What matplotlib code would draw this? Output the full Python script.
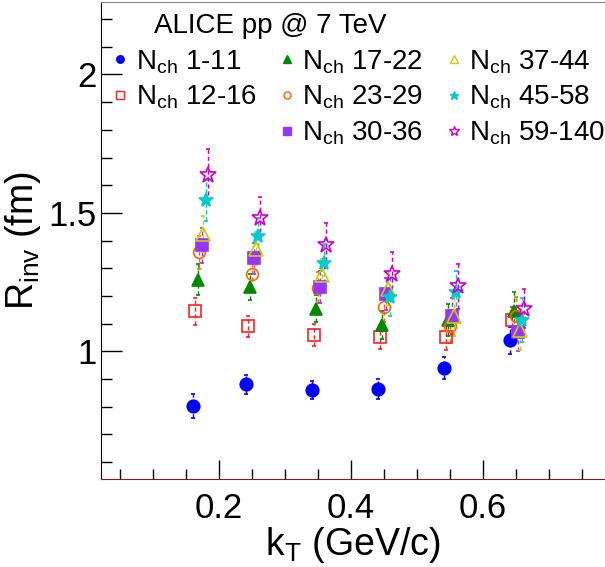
import numpy as np
import matplotlib
matplotlib.use('Agg')
import matplotlib.pyplot as plt
from matplotlib.lines import Line2D

plt.rcParams['font.family'] = ['Liberation Sans', 'DejaVu Sans']
plt.rcParams['mathtext.default'] = 'regular'

# Multiplicity classes
labels = ['1-11', '12-16', '17-22', '23-29', '30-36', '37-44', '45-58', '59-140']

# kT (GeV/c) per class, small shifts for visibility
kt_1_11 = [0.161, 0.241, 0.341, 0.441, 0.541, 0.641]
kt_12_16 = [0.164, 0.244, 0.344, 0.444, 0.544, 0.644]
kt_17_22 = [0.168, 0.247, 0.347, 0.447, 0.547, 0.647]
kt_23_29 = [0.170, 0.250, 0.350, 0.450, 0.550, 0.650]
kt_30_36 = [0.174, 0.253, 0.353, 0.453, 0.553, 0.653]
kt_37_44 = [0.176, 0.256, 0.356, 0.456, 0.556, 0.656]
kt_45_58 = [0.180, 0.259, 0.359, 0.459, 0.559, 0.659]
kt_59_140 = [0.183, 0.262, 0.362, 0.462, 0.562, 0.662]

# Rinv (fm)
r_1_11 = [0.803, 0.881, 0.859, 0.863, 0.940, 1.040]
r_12_16 = [1.144, 1.090, 1.059, 1.050, 1.053, 1.111]
r_17_22 = [1.259, 1.232, 1.154, 1.095, 1.112, 1.145]
r_23_29 = [1.358, 1.279, 1.230, 1.160, 1.090, 1.126]
r_30_36 = [1.382, 1.335, 1.232, 1.206, 1.126, 1.070]
r_37_44 = [1.422, 1.370, 1.274, 1.226, 1.126, 1.078]
r_45_58 = [1.545, 1.415, 1.318, 1.196, 1.214, 1.114]
r_59_140 = [1.635, 1.482, 1.382, 1.278, 1.234, 1.154]

# erros
e_1_11 = [0.043, 0.034, 0.033, 0.036, 0.040, 0.049]
e_12_16 = [0.048, 0.038, 0.041, 0.042, 0.047, 0.050]
e_17_22 = [0.057, 0.047, 0.050, 0.050, 0.058, 0.070]
e_23_29 = [0.060, 0.050, 0.055, 0.055, 0.060, 0.070]
e_30_36 = [0.062, 0.055, 0.058, 0.058, 0.065, 0.070]
e_37_44 = [0.065, 0.060, 0.060, 0.060, 0.070, 0.075]
e_45_58 = [0.075, 0.065, 0.070, 0.070, 0.075, 0.080]
e_59_140 = [0.095, 0.075, 0.080, 0.080, 0.080, 0.070]

kts = [kt_1_11, kt_12_16, kt_17_22, kt_23_29, kt_30_36, kt_37_44, kt_45_58, kt_59_140]
rs = [r_1_11, r_12_16, r_17_22, r_23_29, r_30_36, r_37_44, r_45_58, r_59_140]
errs = [e_1_11, e_12_16, e_17_22, e_23_29, e_30_36, e_37_44, e_45_58, e_59_140]

# estilo de cada serie: (marker, cor, cheio, tamanho)
estilos = [('o', '#0000ff', True, 9),
           ('s', '#ff2020', False, 9),
           ('^', '#008800', True, 9),
           ('o', '#ff6600', False, 8.5),
           ('s', '#9933ff', True, 8.5),
           ('^', '#cccc00', False, 10),
           ('*', '#00cccc', True, 10.5),
           ('*', '#cc00cc', False, 12)]

fig = plt.figure(figsize=(6.05, 5.67), dpi=100)
ax = fig.add_axes([100.5 / 605, 87.7 / 567, 504.5 / 605, 477.3 / 567])

handles = []
for kt, r, e, (m, c, cheio, ms) in zip(kts, rs, errs, estilos):
    fc = c if cheio else 'none'
    eb = ax.errorbar(kt, r, yerr=e, fmt=m, color=c, mfc=fc, mec=c, ms=ms, mew=1.2,
                     elinewidth=1.0, capsize=1.5, capthick=1.0)
    eb[2][0].set_linestyle((0, (3, 2)))
    handles.append(Line2D([], [], marker=m, color=c, mfc=fc, mec=c, ms=ms * 0.6, mew=1.0, ls='none'))

ax.set_xlim(0.0205, 0.785)
ax.set_ylim(0.537, 2.262)

ax.set_xticks([0.2, 0.4, 0.6])
ax.set_xticklabels(['0.2', '0.4', '0.6'])
ax.set_xticks(np.arange(0.05, 0.78, 0.05), minor=True)
ax.set_yticks([1, 1.5, 2])
ax.set_yticklabels(['1', '1.5', '2'])
ax.set_yticks(np.arange(0.6, 2.25, 0.1), minor=True)

ax.tick_params(which='both', direction='in', top=False, right=False)
ax.tick_params(axis='x', which='major', length=14, width=1, labelsize=25, pad=9)
ax.tick_params(axis='x', which='minor', length=7, width=1)
ax.tick_params(axis='y', which='major', length=15, width=1, labelsize=25, pad=3)
ax.tick_params(axis='y', which='minor', length=8, width=1)

ax.spines['right'].set_visible(False)
ax.spines['top'].set_color('#888888')
ax.spines['bottom'].set_color('#8b1a1a')
ax.spines['left'].set_color('black')

ax.set_xlabel('k$_T$ (GeV/c)', fontsize=27, labelpad=0)
ax.set_ylabel('R$_{inv}$ (fm)', fontsize=27, labelpad=4)

fig.text(154 / 605, 1 - 26 / 567, 'ALICE pp @ 7 TeV', fontsize=20, va='center', ha='left')

# legenda em 3 colunas, coluna 1 com espaco vazio
vazio = Line2D([], [], ls='none', marker='none')
leg_handles = [handles[0], handles[1], vazio] + handles[2:]
leg_labels = ['N$_{ch}$ ' + labels[0], 'N$_{ch}$ ' + labels[1], ''] + ['N$_{ch}$ ' + l for l in labels[2:]]
leg = fig.legend(leg_handles, leg_labels, ncol=3, loc='upper left',
                 bbox_to_anchor=(112 / 605, 1 - 48 / 567), frameon=False, fontsize=20,
                 handlelength=0.6, handletextpad=0.25, columnspacing=0.8, labelspacing=0.3,
                 borderpad=0, borderaxespad=0)

fig.savefig('out.png', dpi=100)
